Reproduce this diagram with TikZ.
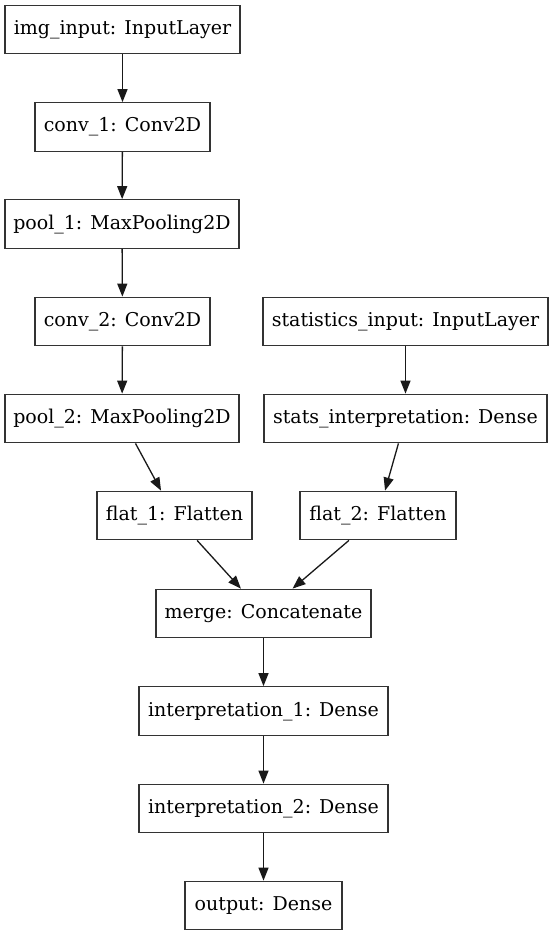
\documentclass[tikz,border=0pt]{standalone}
\usepackage{fontspec}
\setmainfont{DejaVu Serif}
\usetikzlibrary{arrows.meta}
\begin{document}
\begin{tikzpicture}[x=1pt,y=-1pt,
  layer/.style={draw=black!80, line width=1.3pt, inner sep=0pt, minimum height=48.5pt,
    font=\fontsize{19}{23}\selectfont, text height=14pt, text depth=4pt},
  edge/.style={draw=black!90, line width=1.3pt, -{Triangle[length=13pt,width=10pt]}}]
\useasboundingbox[fill=white] (0,0) rectangle (553,936);
\node[layer, minimum width=235pt] (img) at (122.5,29.5) {img\_input: InputLayer};
\node[layer, minimum width=175pt] (c1) at (122.5,127) {conv\_1: Conv2D};
\node[layer, minimum width=234pt] (p1) at (122,224) {pool\_1: MaxPooling2D};
\node[layer, minimum width=175pt] (c2) at (122.5,321.5) {conv\_2: Conv2D};
\node[layer, minimum width=285pt] (si) at (405.5,321.5) {statistics\_input: InputLayer};
\node[layer, minimum width=234pt] (p2) at (122,418.5) {pool\_2: MaxPooling2D};
\node[layer, minimum width=283pt] (st) at (405.5,418.5) {stats\_interpretation: Dense};
\node[layer, minimum width=155pt] (f1) at (174.5,515.5) {flat\_1: Flatten};
\node[layer, minimum width=156pt] (f2) at (378,515.5) {flat\_2: Flatten};
\node[layer, minimum width=215pt] (m) at (263.5,613.5) {merge: Concatenate};
\node[layer, minimum width=249pt] (i1) at (263.5,711) {interpretation\_1: Dense};
\node[layer, minimum width=249pt] (i2) at (263.5,808.5) {interpretation\_2: Dense};
\node[layer, minimum width=157pt] (o) at (263.5,905.5) {output: Dense};
\draw[edge] (img) -- (c1);
\draw[edge] (c1) -- (p1);
\draw[edge] (p1) -- (c2);
\draw[edge] (c2) -- (p2);
\draw[edge] (si) -- (st);
\draw[edge] (p2) -- (f1);
\draw[edge] (st) -- (f2);
\draw[edge] (f1) -- (m);
\draw[edge] (f2) -- (m);
\draw[edge] (m) -- (i1);
\draw[edge] (i1) -- (i2);
\draw[edge] (i2) -- (o);
\end{tikzpicture}
\end{document}
